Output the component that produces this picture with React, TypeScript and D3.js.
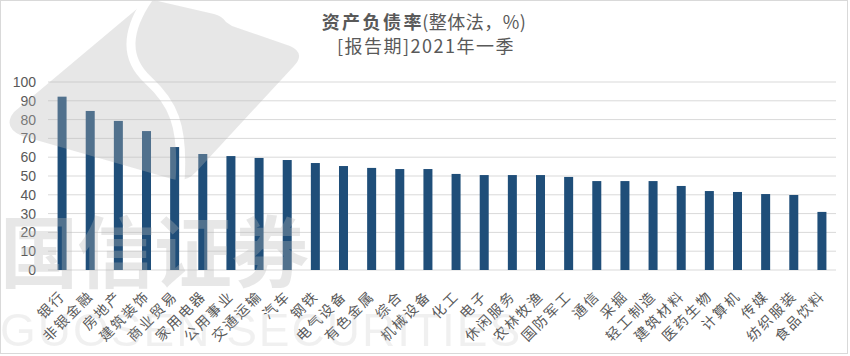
import React from "react";
import * as d3 from "d3";

const categories = ["银行","非银金融","房地产","建筑装饰","商业贸易","家用电器","公用事业","交通运输","汽车","钢铁","电气设备","有色金属","综合","机械设备","化工","电子","休闲服务","农林牧渔","国防军工","通信","采掘","轻工制造","建筑材料","医药生物","计算机","传媒","纺织服装","食品饮料"];
const values = [92.2,84.6,79.3,73.9,65.4,61.7,60.6,59.6,58.5,56.9,55.3,54.3,53.7,53.7,51.1,50.5,50.5,50.5,49.5,47.3,47.3,47.3,44.7,42.0,41.5,40.4,39.9,30.9];
const yTicks = [0,10,20,30,40,50,60,70,80,90,100];
const titleBold = "资产负债率";
const titleRest = "(整体法，%)";
const subtitle = "[报告期]2021年一季";

const W = 850, H = 356;
const CJK = "'Noto Sans CJK SC', 'Noto Sans', sans-serif";
const NUM = "'Liberation Sans', Arial, sans-serif";

export default function App() {
  const x = d3.scaleBand<string>().domain(categories).range([48, 836]).paddingInner(0.68).paddingOuter(0.34);
  const y = d3.scaleLinear().domain([0, 100]).range([270, 82]);
  const bw = x.bandwidth();
  return (
    <svg width={W} height={H} style={{ position: "absolute", left: 0, top: 0, background: "#fff" }}>
      <defs>
        <mask id="logoMask">
          <rect x={0} y={0} width={W} height={H} fill="#fff" />
          <path d="M150,-4 C126,30 124,58 148,80 C172,102 184,124 180,182" stroke="#000" strokeWidth={9} fill="none" />
        </mask>
      </defs>
      <rect x={0.5} y={0.5} width={847} height={353} fill="#fff" stroke="#d9d9d9" />
      {yTicks.map((t) => (
        <g key={t}>
          <line x1={48} x2={836} y1={y(t)} y2={y(t)} stroke="#d9d9d9" strokeWidth={1} />
          <text x={36} y={y(t)} dy="0.36em" textAnchor="end" fontFamily={NUM} fontSize={14} fill="#595959">{t}</text>
        </g>
      ))}
      {categories.map((c, i) => (
        <rect key={c} x={x(c)} y={y(values[i])} width={bw} height={y(0) - y(values[i])} fill="#1f4e79" />
      ))}
      {categories.map((c) => {
        const cx = (x(c) as number) + bw / 2 + 4;
        const cy = 297;
        return (
          <text key={c} x={cx} y={cy} transform={`rotate(-45 ${cx} ${cy})`} textAnchor="end" fontFamily={CJK} fontSize={14} letterSpacing={2} fill="#595959">{c}</text>
        );
      })}
      <text x={424} y={29} textAnchor="middle" fontFamily={CJK} fontSize={18} fill="#595959">
        <tspan fontWeight="bold" letterSpacing={2.5}>{titleBold}</tspan>
        <tspan dx={-2} letterSpacing={0.5}>{titleRest}</tspan>
      </text>
      <text x={426} y={53} textAnchor="middle" fontFamily={CJK} fontSize={18} letterSpacing={1.5} fill="#595959">{subtitle}</text>
      <g opacity={0.33} pointerEvents="none">
        <path mask="url(#logoMask)" d="M14,112 L138,8 Q148,-2 162,2 L214,14 Q222,16 226,22 L232,26 L290,46 Q306,53 294,66 L196,172 Q186,183 172,179 L22,136 Q2,127 14,112 Z" fill="#b8b8b8" />
        <text x={0} y={282} fontFamily={CJK} fontSize={78} fontWeight="bold" fill="#b8b8b8" letterSpacing={-1}>国信证券</text>
      </g>
      <g opacity={0.2} pointerEvents="none">
        <text x={0} y={346} fontFamily={NUM} fontSize={46} fill="#b8b8b8" letterSpacing={2}>GUOSEN SECURITIES</text>
      </g>
    </svg>
  );
}
